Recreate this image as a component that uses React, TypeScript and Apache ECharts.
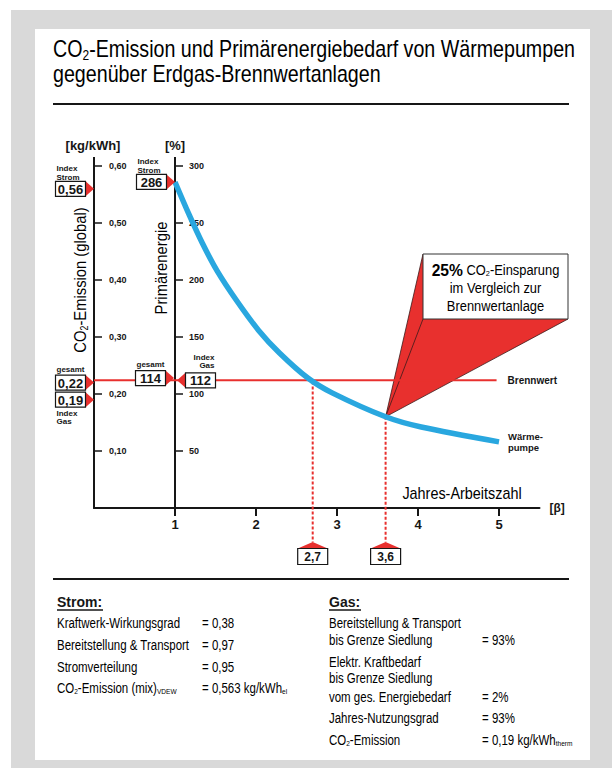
import React, { useEffect, useRef } from "react";
import * as echarts from "echarts";

// Heat pump: Jahres-Arbeitszahl β against primary energy index (%)
const heatPumpBeta = [1, 1.17, 1.34, 1.52, 1.76, 2.03, 2.29, 2.64, 2.94, 3.6, 4.04, 5.0];
const heatPumpPrimary = [286, 258, 232, 208, 182, 156, 136, 114, 101, 80, 71, 58];

// Gas condensing boiler reference (Brennwert), % index, drawn across this β span
const condensingPrimary = 112;
const condensingBetaSpan = [0, 4.97];

const betaTicks = [1, 2, 3, 4, 5];

// β values marked below the axis, with the curve value each guide line starts from
const markedBeta = [2.7, 3.6];
const markedBetaLabels = ["2,7", "3,6"];
const markedPrimary = [111, 80];

// CO2 emission markers (kg/kWh)
const co2Values = [0.56, 0.22, 0.19];
const co2Labels = ["0,56", "0,22", "0,19"];

// Primary energy markers (%)
const primaryValues = [286, 114, 112];
const primaryLabels = ["286", "114", "112"];

const savingLabel = "25%";

const stromLabels = [
  "{n|Kraftwerk-Wirkungsgrad}",
  "{n|Bereitstellung & Transport}",
  "{n|Stromverteilung}",
  "{n|CO}{s|2}{n|-Emission (mix)}{s|VDEW}",
];
const stromValues = ["{n|= 0,38}", "{n|= 0,97}", "{n|= 0,95}", "{n|= 0,563 kg/kWh}{s|el}"];

const gasLabels = [
  "{n|Bereitstellung & Transport}",
  "{n|bis Grenze Siedlung}",
  "{n|Elektr. Kraftbedarf}",
  "{n|bis Grenze Siedlung}",
  "{n|vom ges. Energiebedarf}",
  "{n|Jahres-Nutzungsgrad}",
  "{n|CO}{s|2}{n|-Emission}",
];
const gasValues = ["", "{n|= 93%}", "", "", "{n|= 2%}", "{n|= 93%}", "{n|= 0,19 kg/kWh}{s|therm}"];

const SANS = '"Liberation Sans", Arial, sans-serif';
const INK = "#161616";
const RED = "#e8302e";
const BLUE = "#29a7df";

function rich(size: number) {
  return {
    n: { fontFamily: SANS, fontSize: size, color: INK },
    b: { fontFamily: SANS, fontSize: Math.round(size * 1.2), fontWeight: "bold", color: INK },
    s: {
      fontFamily: SANS,
      fontSize: Math.round(size * 0.6),
      color: INK,
      padding: [Math.round(size * 0.5), 0, 0, 0],
    },
  };
}

// Condensed text: the glyphs are squeezed along the reading direction with scaleX
function richText(x: number, y: number, text: string, size: number, squeeze = 1, align = "left", rotation = 0) {
  return {
    type: "text",
    x,
    y,
    z: 40,
    rotation,
    scaleX: squeeze,
    style: { text, rich: rich(size), align, verticalAlign: "middle" },
  };
}

function boldText(x: number, y: number, text: string, size: number, align = "left") {
  return {
    type: "text",
    x,
    y,
    z: 40,
    style: { text, font: `bold ${size}px ${SANS}`, fill: INK, align, verticalAlign: "middle" },
  };
}

function hline(x1: number, x2: number, y: number, w = 2) {
  return { type: "line", z: 40, shape: { x1, y1: y, x2, y2: y }, style: { stroke: INK, lineWidth: w } };
}

// Value box with a red arrowhead whose tip sits on an axis value
function pointer(tipX: number, tipY: number, dir: number, label: string) {
  const triW = 8.5;
  const boxW = 30;
  const boxH = 15;
  const baseX = tipX - dir * triW;
  const boxX = dir === 1 ? baseX - boxW : baseX;
  const top = tipY - boxH / 2;
  const els = [
    {
      type: "polygon",
      z: 30,
      shape: { points: [[tipX, tipY], [baseX, tipY - boxH / 2], [baseX, tipY + boxH / 2]] },
      style: { fill: RED },
    },
    {
      type: "rect",
      z: 31,
      shape: { x: boxX, y: top, width: boxW, height: boxH },
      style: { fill: "#fff", stroke: INK, lineWidth: 1.2 },
    },
    boldText(boxX + boxW / 2, tipY + 0.5, label, 13, "center"),
  ];
  return { els, left: boxX, right: boxX + boxW, top, bottom: top + boxH };
}

function buildOption() {
  return {
    animation: false,
    grid: { left: 94, top: 166, width: 445.5, height: 342, containLabel: false },
    xAxis: {
      type: "value",
      min: 0,
      max: 5.5,
      interval: 1,
      name: "[β]",
      nameLocation: "end",
      nameGap: 10,
      nameTextStyle: { fontFamily: SANS, fontWeight: "bold", fontSize: 12, color: INK, verticalAlign: "middle" },
      axisLine: { onZero: false, lineStyle: { color: INK, width: 2 } },
      axisTick: { customValues: betaTicks, length: 8, lineStyle: { color: INK, width: 2 } },
      axisLabel: {
        customValues: betaTicks,
        margin: 10,
        fontFamily: SANS,
        fontWeight: "bold",
        fontSize: 13,
        color: INK,
      },
      splitLine: { show: false },
    },
    yAxis: [
      {
        type: "value",
        min: 0,
        max: 0.6,
        interval: 0.1,
        position: "left",
        axisLine: { show: true, onZero: false, lineStyle: { color: INK, width: 2 } },
        axisTick: { show: true, inside: true, length: 8, lineStyle: { color: INK, width: 1.5 } },
        axisLabel: {
          inside: true,
          margin: 15,
          fontFamily: SANS,
          fontWeight: "bold",
          fontSize: 9,
          color: INK,
          formatter: (v: number) => (v === 0 ? "" : v.toFixed(2).replace(".", ",")),
        },
        splitLine: { show: false },
      },
      {
        type: "value",
        min: 0,
        max: 300,
        interval: 50,
        position: "left",
        offset: -81,
        axisLine: { show: true, onZero: false, lineStyle: { color: INK, width: 2 } },
        axisTick: { show: true, inside: true, length: 8, lineStyle: { color: INK, width: 1.5 } },
        axisLabel: {
          inside: true,
          margin: 14,
          fontFamily: SANS,
          fontWeight: "bold",
          fontSize: 9,
          color: INK,
          formatter: (v: number) => (v === 0 ? "" : String(v)),
        },
        splitLine: { show: false },
      },
    ],
    series: [
      {
        type: "line",
        name: "Brennwert",
        xAxisIndex: 0,
        yAxisIndex: 1,
        data: condensingBetaSpan.map((b) => [b, condensingPrimary]),
        showSymbol: false,
        symbol: "none",
        lineStyle: { color: RED, width: 2 },
        z: 2,
        endLabel: {
          show: true,
          formatter: "Brennwert",
          distance: 11,
          fontFamily: SANS,
          fontWeight: "bold",
          fontSize: 10,
          color: INK,
        },
      },
      {
        type: "line",
        name: "Wärmepumpe",
        xAxisIndex: 0,
        yAxisIndex: 1,
        data: heatPumpBeta.map((b, i) => [b, heatPumpPrimary[i]]),
        smooth: 0.3,
        showSymbol: false,
        symbol: "none",
        lineStyle: { color: BLUE, width: 5.5 },
        z: 5,
        endLabel: {
          show: true,
          formatter: "Wärme-\npumpe",
          distance: 9,
          align: "left",
          lineHeight: 11.5,
          fontFamily: SANS,
          fontWeight: "bold",
          fontSize: 9.5,
          color: INK,
        },
      },
    ],
  };
}

function buildOverlay(chart: any) {
  const px = (b: number) => chart.convertToPixel({ xAxisIndex: 0 }, b) as number;
  const pyPct = (v: number) => chart.convertToPixel({ yAxisIndex: 1 }, v) as number;
  const pyKg = (v: number) => chart.convertToPixel({ yAxisIndex: 0 }, v) as number;

  const kgX = px(0);
  const pctX = px(1);
  const axisTop = 157;
  const gridTop = pyPct(300);

  const g: any[] = [];

  // Title and rules
  g.push(richText(53, 49, "{n|CO}{s|2}{n|-Emission und Primärenergiebedarf von Wärmepumpen}", 23, 0.855));
  g.push(richText(53, 74, "{n|gegenüber Erdgas-Brennwertanlagen}", 23, 0.855));
  g.push(hline(53, 569, 104, 2));
  g.push(hline(53, 569, 579, 2));

  // Axis heads and titles
  g.push({ type: "line", z: 40, shape: { x1: kgX, y1: axisTop, x2: kgX, y2: gridTop }, style: { stroke: INK, lineWidth: 2 } });
  g.push({ type: "line", z: 40, shape: { x1: pctX, y1: axisTop, x2: pctX, y2: gridTop }, style: { stroke: INK, lineWidth: 2 } });
  g.push(boldText(kgX - 1, 145, "[kg/kWh]", 13, "center"));
  g.push(boldText(pctX, 145, "[%]", 13, "center"));
  g.push(richText(80, 280, "{n|CO}{s|2}{n|-Emission (global)}", 17, 0.87, "center", Math.PI / 2));
  g.push(richText(161, 268, "{n|Primärenergie}", 17, 0.87, "center", Math.PI / 2));
  g.push(richText(462, 493, "{n|Jahres-Arbeitszahl}", 16, 0.9, "center"));

  const caption = (x: number, y: number, t: string, align = "left") => ({
    type: "text",
    x,
    y,
    z: 40,
    style: { text: t, font: `bold 8px ${SANS}`, fill: INK, align, verticalAlign: "middle" },
  });

  // CO2 markers on the kg/kWh axis
  const p056 = pointer(kgX, pyKg(co2Values[0]), 1, co2Labels[0]);
  const p022 = pointer(kgX, pyKg(co2Values[1]), 1, co2Labels[1]);
  const p019 = pointer(kgX, pyKg(co2Values[2]), 1, co2Labels[2]);
  g.push(...p056.els, ...p022.els, ...p019.els);
  g.push(caption(p056.left + 1, p056.top - 12.5, "Index"), caption(p056.left + 1, p056.top - 4, "Strom"));
  g.push(caption(p022.left + 1, p022.top - 6, "gesamt"));
  g.push(caption(p019.left + 1, p019.bottom + 6, "Index"), caption(p019.left + 1, p019.bottom + 14, "Gas"));

  // Primary energy markers on the % axis
  const p286 = pointer(pctX, pyPct(primaryValues[0]), 1, primaryLabels[0]);
  const p114 = pointer(pctX - 1, pyPct(primaryValues[1]), 1, primaryLabels[1]);
  const p112 = pointer(pctX + 2, pyPct(primaryValues[2]), -1, primaryLabels[2]);
  g.push(...p286.els, ...p114.els, ...p112.els);
  g.push(caption(p286.left + 1, p286.top - 12.5, "Index"), caption(p286.left + 1, p286.top - 4, "Strom"));
  g.push(caption(p114.left + 1, p114.top - 6, "gesamt"));
  g.push(caption(p112.right - 1, p112.top - 15, "Index", "right"), caption(p112.right - 1, p112.top - 7, "Gas", "right"));

  // Dotted guide lines down to the β markers
  markedBeta.forEach((b, i) => {
    const x = px(b);
    const yTop = pyPct(markedPrimary[i]);
    const apexY = 542;
    const roofY = 548.5;
    const boxW = 30;
    g.push({
      type: "line",
      z: 4,
      shape: { x1: x, y1: yTop, x2: x, y2: apexY },
      style: { stroke: RED, lineWidth: 2, lineDash: [3, 2] },
    });
    g.push({
      type: "polygon",
      z: 30,
      shape: { points: [[x, apexY], [x + boxW / 2, roofY], [x - boxW / 2, roofY]] },
      style: { fill: RED },
    });
    g.push({
      type: "rect",
      z: 31,
      shape: { x: x - boxW / 2, y: roofY, width: boxW, height: 16 },
      style: { fill: "#fff", stroke: INK, lineWidth: 1.2 },
    });
    g.push(boldText(x, roofY + 8.5, markedBetaLabels[i], 12, "center"));
  });

  // Saving callout anchored on the heat pump curve at β = 3,6
  const ax = px(markedBeta[1]);
  const ay = pyPct(markedPrimary[1]);
  const bx1 = 423;
  const by1 = 254;
  const bx2 = 568;
  const by2 = 319;
  g.push({
    type: "polygon",
    z: 1,
    shape: { points: [[ax, ay], [bx1, by1], [bx1, by2], [bx2, by2]] },
    style: { fill: RED },
  });
  [[bx1, by1], [bx1, by2], [bx2, by2]].forEach(([x, y]) =>
    g.push({ type: "line", z: 1, shape: { x1: ax, y1: ay, x2: x, y2: y }, style: { stroke: "#3a1a1a", lineWidth: 0.8 } })
  );
  g.push({
    type: "rect",
    z: 31,
    shape: { x: bx1, y: by1, width: bx2 - bx1, height: by2 - by1 },
    style: { fill: "#fff", stroke: "#333", lineWidth: 1 },
  });
  const cx = (bx1 + bx2) / 2;
  g.push(richText(cx, 270, `{b|${savingLabel}}{n| CO}{s|2}{n|-Einsparung}`, 14, 0.92, "center"));
  g.push(richText(cx, 288, "{n|im Vergleich zur}", 14, 0.92, "center"));
  g.push(richText(cx, 306, "{n|Brennwertanlage}", 14, 0.92, "center"));

  // Data tables
  g.push(boldText(57, 602, "Strom:", 14));
  g.push(hline(57, 103, 610, 1.5));
  const stromY = [623, 645, 667, 688];
  stromLabels.forEach((t, i) => {
    g.push(richText(57, stromY[i], t, 14, 0.82));
    g.push(richText(202, stromY[i], stromValues[i], 14, 0.82));
  });

  g.push(boldText(329, 602, "Gas:", 14));
  g.push(hline(329, 361, 610, 1.5));
  const gasY = [623, 640, 662, 678, 697, 718, 740];
  gasLabels.forEach((t, i) => {
    g.push(richText(329, gasY[i], t, 14, 0.82));
    if (gasValues[i]) g.push(richText(482, gasY[i], gasValues[i], 14, 0.82));
  });

  return g;
}

export default function App() {
  const ref = useRef<HTMLDivElement>(null);
  useEffect(() => {
    const el = ref.current;
    if (!el) return;
    const chart = echarts.init(el, undefined, { renderer: "svg" });
    chart.setOption(buildOption() as any);
    chart.setOption({ graphic: buildOverlay(chart) } as any);
    return () => chart.dispose();
  }, []);
  return (
    <div style={{ position: "absolute", left: 0, top: 0, width: 612, height: 768, background: "#fff" }}>
      <div style={{ position: "absolute", left: 11, top: 10, width: 601, height: 758, background: "#d9d9d9" }} />
      <div style={{ position: "absolute", left: 35, top: 29, width: 555, height: 731, background: "#fff" }} />
      <div ref={ref} style={{ position: "absolute", left: 0, top: 0, width: 612, height: 768 }} />
    </div>
  );
}
